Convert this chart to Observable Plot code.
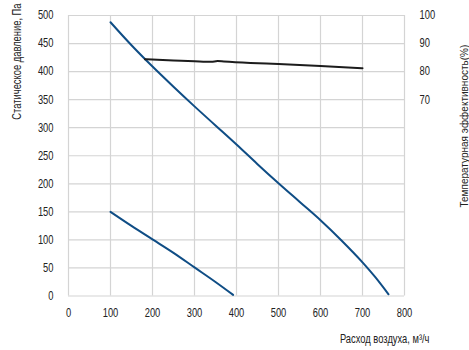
<!DOCTYPE html>
<html>
<head>
<meta charset="utf-8">
<script src="https://cdn.jsdelivr.net/npm/d3@7"></script>
<script src="https://cdn.jsdelivr.net/npm/@observablehq/plot@0.6"></script>
<style>
  html, body { margin: 0; padding: 0; background: #fff; }
  #chart { width: 469px; height: 350px; }
</style>
</head>
<body>
<div id="chart"></div>
<script>
// Upper fan curve (static pressure, Pa vs airflow, m3/h)
const flowHigh = [100, 150, 200, 250, 300, 350, 400, 450, 500, 550, 600, 650, 700, 730, 762];
const pressureHigh = [488, 447, 409, 373, 338, 304, 270, 235, 201, 168, 135, 99, 60, 34, 3];
// Lower fan curve
const flowLow = [100, 150, 200, 250, 300, 350, 392];
const pressureLow = [150, 125, 101, 77, 51, 25, 2];
// Temperature efficiency (%)
const flowEff = [182, 250, 300, 340, 355, 370, 433, 500, 600, 700];
const efficiency = [84.4, 84.0, 83.7, 83.5, 83.75, 83.6, 83.1, 82.7, 82.0, 81.2];
// Tick labels
const xTicks = [0, 100, 200, 300, 400, 500, 600, 700, 800];
const yTicks = [0, 50, 100, 150, 200, 250, 300, 350, 400, 450, 500];
const effTicks = [70, 80, 90, 100];
// Titles
const yTitle = "Статическое давление, Па";
const y2Title = "Температурная эффективность(%)";
const xTitle = "Расход воздуха, м³/ч";

const effScale = 5; // 100 % on the right axis aligns with 500 Pa on the left axis

const high = flowHigh.map((f, i) => ({flow: f, p: pressureHigh[i]}));
const low = flowLow.map((f, i) => ({flow: f, p: pressureLow[i]}));
const eff = flowEff.map((f, i) => ({flow: f, p: efficiency[i] * effScale}));

const font = "'Liberation Sans', Arial, sans-serif";
const blue = "#0f4d85";
const grid = "#d4d4d4";
const ink = "#222";

const chart = Plot.plot({
  width: 469,
  height: 350,
  marginLeft: 68,
  marginRight: 65,
  marginTop: 15,
  marginBottom: 54.5,
  style: {fontFamily: font, fontSize: "12px", color: ink, background: "#fff", overflow: "visible"},
  x: {domain: [0, 800]},
  y: {domain: [0, 500]},
  marks: [
    Plot.gridX(xTicks, {stroke: grid, strokeOpacity: 1, strokeWidth: 1.2}),
    Plot.gridY(yTicks, {stroke: grid, strokeOpacity: 1, strokeWidth: 1.2}),
    Plot.axisX(xTicks, {tickSize: 0, tickPadding: 12, label: null, fill: ink}),
    Plot.axisY(yTicks, {tickSize: 0, tickPadding: 15, label: null, fill: ink}),
    Plot.axisY(effTicks.map(e => e * effScale), {anchor: "right", tickSize: 0, tickPadding: 15, tickFormat: d => d / effScale, label: null, fill: ink}),
    Plot.line(high, {x: "flow", y: "p", stroke: blue, strokeWidth: 2, curve: "monotone-x"}),
    Plot.line(low, {x: "flow", y: "p", stroke: blue, strokeWidth: 2, curve: "monotone-x"}),
    Plot.line(eff, {x: "flow", y: "p", stroke: "#1c1c1c", strokeWidth: 2, curve: "monotone-x"}),
    Plot.text([yTitle], {frameAnchor: "top-left", text: d => d, rotate: -90, textAnchor: "end", dx: -56, dy: -12, fontSize: 12, fill: ink}),
    Plot.text([y2Title], {frameAnchor: "top-right", text: d => d, rotate: -90, textAnchor: "start", dx: 56, dy: 192, fontSize: 10, fill: ink, letterSpacing: "0.6px"}),
    Plot.text([xTitle], {frameAnchor: "bottom-right", text: d => d, textAnchor: "end", dx: 25, dy: 46.5, fontSize: 12, fill: ink})
  ]
});

// Condense the label glyphs (the reference uses a narrow typeface), keeping each anchor fixed.
d3.select(chart).selectAll("text").each(function () {
  if (this.textContent === y2Title) return;
  const t = this.getAttribute("transform") || "";
  this.setAttribute("transform", t + " scale(0.78,1)");
});

document.getElementById("chart").appendChild(chart);
</script>
</body>
</html>
